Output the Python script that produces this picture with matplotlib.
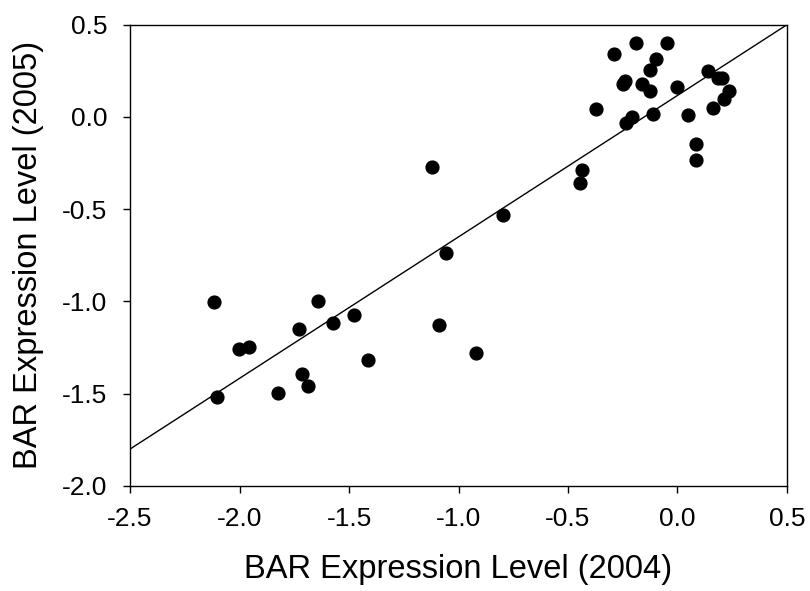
import matplotlib
matplotlib.use("Agg")
import matplotlib.pyplot as plt
import numpy as np

plt.rcParams['font.family'] = ['Liberation Sans', 'DejaVu Sans']

# BAR expression, 2004 vs 2005
x_2004 = [-0.289, -0.188, -0.048, -0.098, -0.127, -0.250, -0.242, -0.162, -0.127,
          -0.002, 0.141, 0.184, 0.203, 0.237, 0.214, 0.163, -0.372, -0.209, -0.235,
          -0.113, 0.049, 0.083, 0.084, -0.437, -0.447,
          -1.120, -0.797, -1.056,
          -2.115, -1.640, -1.476, -1.574, -1.728, -2.001, -1.955, -1.090, -0.921,
          -1.415, -1.716, -1.689, -1.823, -2.104]
y_2005 = [0.343, 0.399, 0.399, 0.312, 0.256, 0.180, 0.196, 0.180, 0.139,
          0.164, 0.249, 0.209, 0.211, 0.139, 0.096, 0.049, 0.041, -0.002, -0.031,
          0.014, 0.012, -0.147, -0.233, -0.289, -0.356,
          -0.270, -0.533, -0.736,
          -1.003, -0.999, -1.075, -1.118, -1.149, -1.259, -1.248, -1.128, -1.278,
          -1.317, -1.392, -1.460, -1.495, -1.520]

# reference line
line_slope = 0.7667
line_intercept = 0.1167

fig = plt.figure(figsize=(8.1, 5.91), dpi=100)
ax = fig.add_axes([0.1605, 0.1777, 0.8111, 0.7805])

xs = np.array([-2.5, 0.5])
ax.plot(xs, line_slope * xs + line_intercept, color='black', lw=1.0, zorder=2)
ax.scatter(x_2004, y_2005, s=85, color='black', zorder=3, clip_on=False)

ax.set_xlim(-2.5, 0.5)
ax.set_ylim(-2.0, 0.5)
ax.set_xticks(np.arange(-2.5, 0.51, 0.5))
ax.set_yticks(np.arange(-2.0, 0.51, 0.5))
ax.set_xticklabels(['%.1f' % v for v in np.arange(-2.5, 0.51, 0.5)])
ax.set_yticklabels(['%.1f' % v for v in np.arange(-2.0, 0.51, 0.5)])
ax.tick_params(direction='out', length=5, width=1, labelsize=19, pad=10)
ax.tick_params(axis='y', pad=11.5)

for s in ax.spines.values():
    s.set_linewidth(1.0)

ax.set_xlabel('BAR Expression Level (2004)', fontsize=23.5, labelpad=17)
ax.set_ylabel('BAR Expression Level (2005)', fontsize=23.5, labelpad=13)

fig.savefig('out.png', dpi=100)
